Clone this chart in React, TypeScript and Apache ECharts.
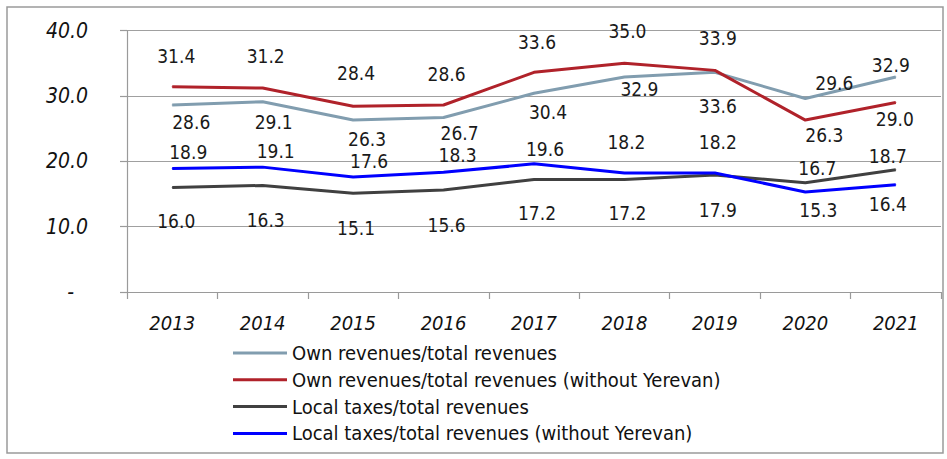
import React, { useEffect, useRef } from "react";
import * as echarts from "echarts";

const years = ["2013", "2014", "2015", "2016", "2017", "2018", "2019", "2020", "2021"];
const ownRevenues = [28.6, 29.1, 26.3, 26.7, 30.4, 32.9, 33.6, 29.6, 32.9];
const ownRevenuesNoYerevan = [31.4, 31.2, 28.4, 28.6, 33.6, 35.0, 33.9, 26.3, 29.0];
const localTaxes = [16.0, 16.3, 15.1, 15.6, 17.2, 17.2, 17.9, 16.7, 18.7];
const localTaxesNoYerevan = [18.9, 19.1, 17.6, 18.3, 19.6, 18.2, 18.2, 15.3, 16.4];
const yMin = 0;
const yMax = 40;
const yStep = 10;

const seriesNames = [
  "Own revenues/total revenues",
  "Own revenues/total revenues (without Yerevan)",
  "Local taxes/total revenues",
  "Local taxes/total revenues (without Yerevan)",
];

// label placement (layout only)
const offsOwn = [[19, 17], [11, 20], [14, 19], [16, 16], [14, 19], [15, 12], [3, 34], [29, -15], [-5, -12]];
const offsOwnNoY = [[4, -31], [3, -32], [3, -33], [3, -31], [3, -30], [3, -32], [3, -32], [19, 15], [-1, 17]];
const offsTax = [[4, 34], [3, 35], [3, 35], [3, 35], [3, 33], [3, 33], [3, 35], [12, -15], [-8, -14]];
const offsTaxNoY = [[16, -16], [13, -16], [16, -16], [14, -17], [11, -15], [2, -31], [3, -31], [13, 18], [-8, 19]];

const COND = "'DejaVu Sans Condensed', 'DejaVu Sans', sans-serif";

export default function App() {
  const ref = useRef<HTMLDivElement>(null);
  useEffect(() => {
    document.body.style.margin = "0";
    if (!ref.current) return;
    const chart = echarts.init(ref.current, null, { renderer: "svg" });
    const mk = (name: string, vals: number[], offs: number[][], color: string) => ({
      name,
      type: "line",
      symbol: "circle",
      symbolSize: 1,
      lineStyle: { color, width: 3 },
      itemStyle: { color },
      emphasis: { disabled: true },
      label: {
        show: true,
        position: "inside",
        fontFamily: COND,
        fontSize: 19,
        color: "#1a1a1a",
        formatter: (p: any) => Number(p.value).toFixed(1),
      },
      data: vals.map((v, i) => ({ value: v, label: { offset: offs[i] } })),
    });
    chart.setOption({
      animation: false,
      grid: { left: 127, right: 6, top: 30.5, bottom: 167, containLabel: false },
      graphic: [
        {
          type: "rect",
          shape: { x: 7, y: 7, width: 936, height: 446 },
          style: { fill: "none", stroke: "#9a9a9a", lineWidth: 1.5 },
          silent: true,
        },
      ],
      legend: {
        orient: "vertical",
        left: 233,
        top: 343,
        padding: 0,
        icon: "rect",
        itemWidth: 54,
        itemHeight: 3,
        itemGap: 6.8,
        selectedMode: false,
        textStyle: { fontFamily: COND, fontSize: 20, color: "#111", lineHeight: 20 },
        data: seriesNames,
      },
      xAxis: {
        type: "category",
        data: years,
        boundaryGap: true,
        axisLine: { lineStyle: { color: "#9a9a9a", width: 1.2 } },
        axisTick: { show: true, length: 7, lineStyle: { color: "#9a9a9a", width: 1.2 } },
        axisLabel: {
          fontFamily: COND,
          fontStyle: "italic",
          fontSize: 20,
          color: "#111",
          margin: 21,
        },
        splitLine: { show: false },
      },
      yAxis: {
        type: "value",
        min: yMin,
        max: yMax,
        interval: yStep,
        axisLine: { show: true, lineStyle: { color: "#9a9a9a", width: 1.2 } },
        axisTick: { show: true, length: 7, lineStyle: { color: "#9a9a9a", width: 1.2 } },
        splitLine: { show: true, lineStyle: { color: "#a0a0a0", width: 1.2 } },
        axisLabel: {
          fontFamily: COND,
          fontStyle: "italic",
          fontSize: 21,
          color: "#111",
          margin: 39,
          formatter: (v: number) => (v === 0 ? "{d|-}" : v.toFixed(1)),
          rich: { d: { fontFamily: COND, fontSize: 21, color: "#111", padding: [0, 14, 0, 0] } },
        },
      },
      series: [
        mk(seriesNames[0], ownRevenues, offsOwn, "#819daf"),
        mk(seriesNames[1], ownRevenuesNoYerevan, offsOwnNoY, "#b0222a"),
        mk(seriesNames[2], localTaxes, offsTax, "#404040"),
        mk(seriesNames[3], localTaxesNoYerevan, offsTaxNoY, "#0000ff"),
      ],
    });
    return () => chart.dispose();
  }, []);
  return <div ref={ref} style={{ width: 947, height: 459 }} />;
}
